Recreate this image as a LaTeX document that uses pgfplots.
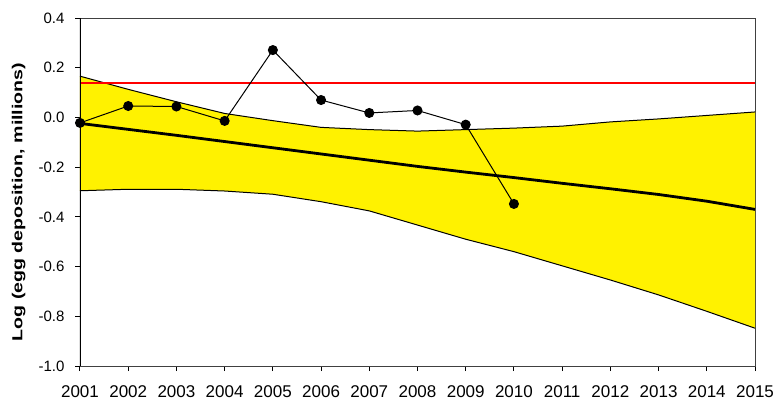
\documentclass[border=0pt]{standalone}
\usepackage{fontspec}
\setmainfont{Liberation Sans}
\usepackage{pgfplots}
\pgfplotsset{compat=1.18}
\begin{document}
\begin{tikzpicture}[x=1pt,y=1pt]
\begin{axis}[
  at={(80pt,34pt)}, anchor=south west,
  scale only axis, width=675pt, height=348pt,
  xmin=2001, xmax=2015, ymin=-1.0, ymax=0.4,
  xtick={2001,2002,2003,2004,2005,2006,2007,2008,2009,2010,2011,2012,2013,2014,2015},
  xticklabels={2001,2002,2003,2004,2005,2006,2007,2008,2009,2010,2011,2012,2013,2014,2015},
  ytick={-1.0,-0.8,-0.6,-0.4,-0.2,0,0.2,0.4},
  yticklabels={-1.0,-0.8,-0.6,-0.4,-0.2,0.0,0.2,0.4},
  tick align=outside, xtick pos=bottom, ytick pos=left,
  major tick length=5pt,
  tick style={black, line width=1pt},
  axis line style={black!75, line width=0.9pt},
  xticklabel style={font=\fontsize{17}{19}\selectfont, inner sep=1pt, yshift=-13pt},
  yticklabel style={font=\fontsize{15}{17}\selectfont, xshift=-7pt},
  ylabel={\scalebox{1.35}[1]{\bfseries Log (egg deposition, millions)}},
  ylabel style={font=\fontsize{14.5}{16}\selectfont, at={(axis description cs:-0.091,0.471)}, anchor=center},
  clip=true,
]
% confidence band
\addplot[fill=yellow, draw=none] coordinates {
 (2001,0.166) (2002,0.113) (2003,0.063) (2004,0.016) (2005,-0.013) (2006,-0.040) (2007,-0.049) (2008,-0.055) (2009,-0.049) (2010,-0.043) (2011,-0.035) (2012,-0.018) (2013,-0.006) (2014,0.008) (2015,0.022)
 (2015,-0.848) (2014,-0.780) (2013,-0.714) (2012,-0.654) (2011,-0.597) (2010,-0.540) (2009,-0.490) (2008,-0.433) (2007,-0.376) (2006,-0.339) (2005,-0.309) (2004,-0.296) (2003,-0.289) (2002,-0.289) (2001,-0.295)
} -- cycle;
\addplot[black, line width=1pt] coordinates {
 (2001,0.166) (2002,0.113) (2003,0.063) (2004,0.016) (2005,-0.013) (2006,-0.040) (2007,-0.049) (2008,-0.055) (2009,-0.049) (2010,-0.043) (2011,-0.035) (2012,-0.018) (2013,-0.006) (2014,0.008) (2015,0.022)};
\addplot[black, line width=1pt] coordinates {
 (2001,-0.295) (2002,-0.289) (2003,-0.289) (2004,-0.296) (2005,-0.309) (2006,-0.339) (2007,-0.376) (2008,-0.433) (2009,-0.490) (2010,-0.540) (2011,-0.597) (2012,-0.654) (2013,-0.714) (2014,-0.780) (2015,-0.848)};
% trend
\addplot[black, line width=2.8pt] coordinates {
 (2001,-0.024) (2002,-0.048) (2003,-0.072) (2004,-0.097) (2005,-0.122) (2006,-0.147) (2007,-0.172) (2008,-0.197) (2009,-0.220) (2010,-0.242) (2011,-0.265) (2012,-0.287) (2013,-0.310) (2014,-0.337) (2015,-0.370)};
% reference line
\addplot[red, line width=2.7pt] coordinates {(2001,0.138) (2015,0.138)};
% observations
\addplot[black, line width=1pt, mark=*, mark size=4.5pt, mark options={fill=black}] coordinates {
 (2001,-0.022) (2002,0.046) (2003,0.044) (2004,-0.014) (2005,0.271) (2006,0.070) (2007,0.018) (2008,0.028) (2009,-0.029) (2010,-0.348)};
\draw[black, line width=1.6pt] (axis cs:2001,-1.0) -- (axis cs:2001,0.4);
\end{axis}
\pgfresetboundingbox
\path (0,0) rectangle (777pt,400pt);
\end{tikzpicture}
\end{document}
